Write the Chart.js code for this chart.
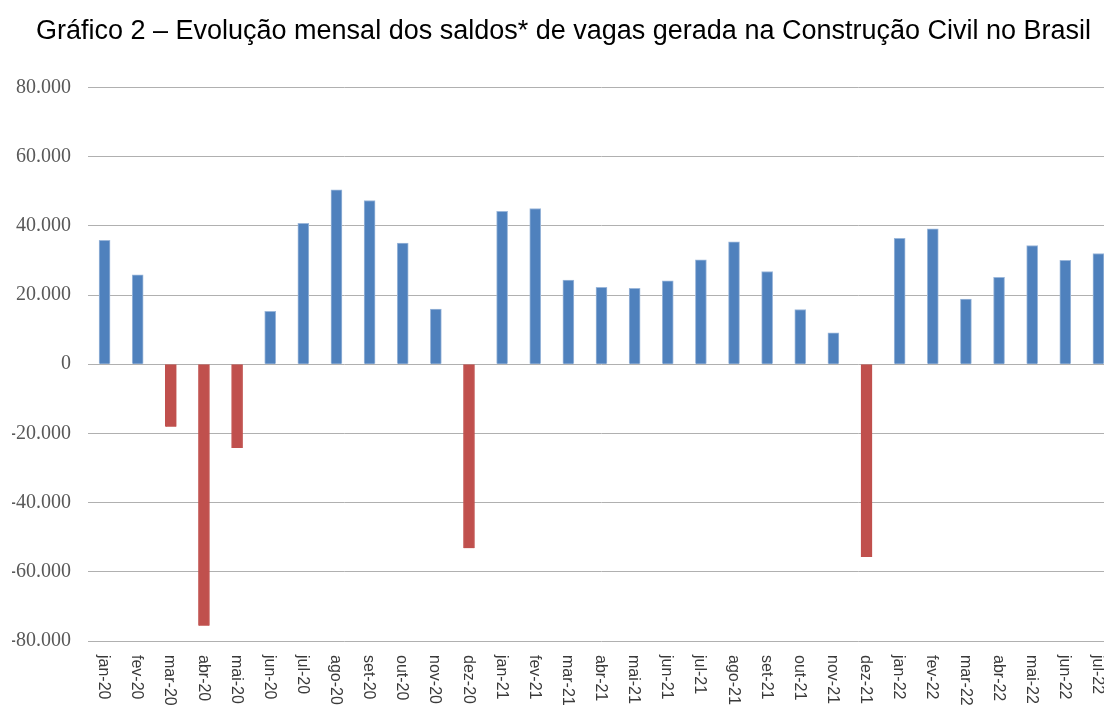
<!DOCTYPE html>
<html>
<head>
<meta charset="utf-8">
<script src="https://cdn.jsdelivr.net/npm/chart.js@4/dist/chart.umd.min.js"></script>
<style>
    html, body { margin: 0; padding: 0; background: #fff; overflow: hidden; }
    #wrap { width: 1116px; height: 706px; }
</style>
</head>
<body>
<div id="wrap"><canvas id="saldosChart"></canvas></div>
<script>
var meses = ['jan-20', 'fev-20', 'mar-20', 'abr-20', 'mai-20', 'jun-20', 'jul-20', 'ago-20', 'set-20', 'out-20', 'nov-20', 'dez-20',
    'jan-21', 'fev-21', 'mar-21', 'abr-21', 'mai-21', 'jun-21', 'jul-21', 'ago-21', 'set-21', 'out-21', 'nov-21', 'dez-21',
    'jan-22', 'fev-22', 'mar-22', 'abr-22', 'mai-22', 'jun-22', 'jul-22'];
var saldos = [35800, 25800, -18100, -75600, -24200, 15300, 40700, 50400, 47300, 35000, 15900, -53200,
    44200, 45000, 24300, 22200, 21900, 24100, 30200, 35400, 26800, 15800, 9100, -55700,
    36400, 39100, 18800, 25100, 34300, 30000, 32000];
var yTicks = [-80000, -60000, -40000, -20000, 0, 20000, 40000, 60000, 80000];
var titulo = 'Gráfico 2 – Evolução mensal dos saldos* de vagas gerada na Construção Civil no Brasil';

var Grafico = {
    init: function () {
        Grafico.draw();
    },
    formata: function (v) {
        let s = Math.abs(v).toString().replace(/\B(?=(\d{3})+(?!\d))/g, '.');
        return (v < 0 ? '-' : '') + s;
    },
    // rotulos do eixo x, girados para baixo como no Excel
    rotulosX: {
        id: 'rotulosX',
        afterDraw: function (chart) {
            let ctx = chart.ctx;
            let x = chart.scales.x;
            ctx.save();
            ctx.font = '16px "Liberation Sans", Arial, sans-serif';
            ctx.fillStyle = '#3a3a3a';
            ctx.textAlign = 'left';
            ctx.textBaseline = 'middle';
            for (let i = 0; i < meses.length; i++) {
                ctx.save();
                ctx.translate(x.getPixelForValue(i) - 1, chart.chartArea.bottom + 14);
                ctx.rotate(Math.PI / 2);
                ctx.fillText(meses[i], 0, 0);
                ctx.restore();
            }
            ctx.restore();
        }
    },
    draw: function () {
        let cores = saldos.map(function (v) { return v < 0 ? '#c0504d' : '#4f81bd'; });
        let bordas = saldos.map(function (v) { return v < 0 ? '#c0504d' : '#9bb7da'; });

        let canvas = document.getElementById('saldosChart');
        let chart = new Chart(canvas, {
            type: 'bar',
            data: {
                labels: meses,
                datasets: [{
                    label: 'Saldo',
                    data: saldos,
                    backgroundColor: cores,
                    borderColor: bordas,
                    borderWidth: { left: 1, right: 1, top: 1, bottom: 0 },
                    barThickness: 11,
                    borderSkipped: false
                }]
            },
            options: {
                responsive: true,
                maintainAspectRatio: false,
                animation: false,
                layout: { padding: { left: 12, right: 1, top: 0, bottom: 65 } },
                plugins: {
                    legend: { display: false },
                    tooltip: { enabled: false },
                    title: {
                        display: true,
                        text: titulo,
                        color: '#000',
                        font: { family: '"Liberation Sans", Arial, sans-serif', size: 27, weight: 'normal' },
                        padding: { top: 15, bottom: 40 }
                    }
                },
                scales: {
                    x: {
                        offset: true,
                        grid: { display: false, drawTicks: false },
                        border: { display: false },
                        ticks: { display: false }
                    },
                    y: {
                        min: -80000,
                        max: 80000,
                        afterBuildTicks: function (axis) {
                            axis.ticks = yTicks.map(function (v) { return { value: v }; });
                        },
                        afterFit: function (axis) { axis.width = 76; },
                        grid: { color: '#b0b0b0', lineWidth: 1, drawTicks: false },
                        border: { display: false },
                        ticks: {
                            padding: 17,
                            color: '#595959',
                            font: { family: '"Liberation Serif", "DejaVu Serif", serif', size: 20 },
                            callback: function (v) { return Grafico.formata(v); }
                        }
                    }
                }
            },
            plugins: [Grafico.rotulosX]
        });
    }
};

Grafico.init();
</script>
</body>
</html>
